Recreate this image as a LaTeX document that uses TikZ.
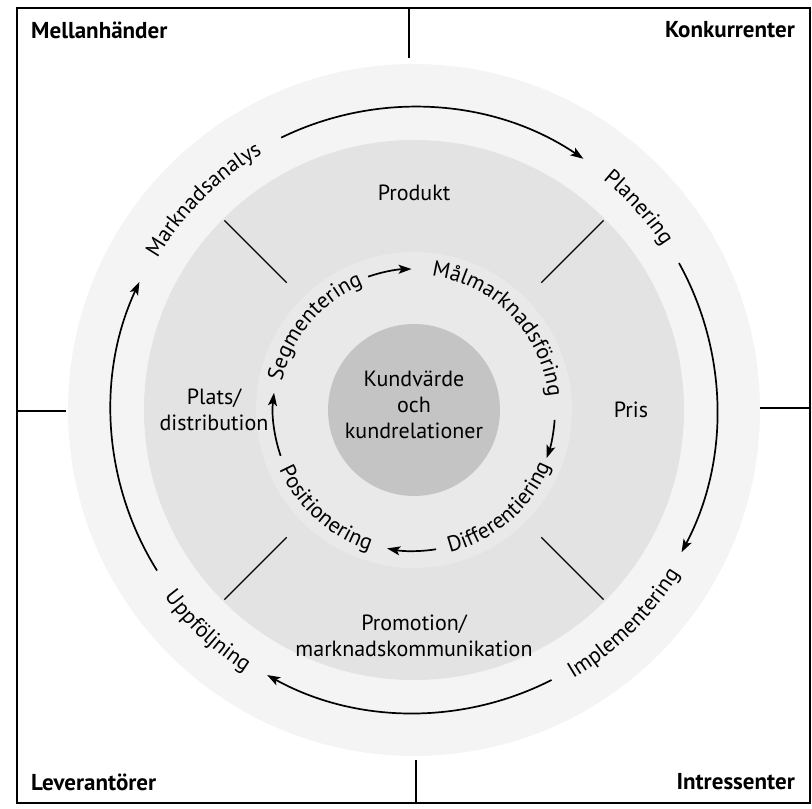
\documentclass[tikz,border=0pt]{standalone}
\usepackage{fontspec}
\setmainfont{PT Sans}
\usetikzlibrary{arrows.meta,decorations.text}
\newcommand\lblfont{\fontsize{22}{26}\selectfont}
\newcommand\cornerfont{\bfseries\fontsize{23}{26}\selectfont}
\begin{document}
\begin{tikzpicture}[x=1pt,y=1pt,
  lbl/.style={font=\lblfont, align=center, inner sep=0pt},
  corner/.style={font=\cornerfont, inner sep=0pt},
  arr/.style={line width=1.7pt, -{Stealth[length=13pt,width=9pt,inset=3pt]}},
  divline/.style={line width=1.2pt},
  frameline/.style={line width=1.4pt},
  curvetext/.style={decorate, decoration={text along path, text align=center, text={|\lblfont|#1}}},
]
\useasboundingbox (0,0) rectangle (812,809);
% rings
\begin{scope}[shift={(414,399)}]
  \coordinate (C) at (0,0);
  \fill[gray!9] (C) circle (346);
  \fill[gray!22] (C) circle (270);
  \fill[gray!17] (C) circle (158);
  \fill[gray!46] (C) circle (86);
  % divider lines in the band
  \foreach \a in {45,135,225,315} \draw[divline] (\a:180) -- (\a:268);
  % outer cycle labels
  \path[curvetext=Marknadsanalys] (165:298) arc[start angle=165,end angle=105,radius=298];
  \path[curvetext=Planering] (65:298) arc[start angle=65,end angle=19,radius=298];
  \path[curvetext=Implementering] (-75:312) arc[start angle=-75,end angle=-16,radius=312];
  \path[curvetext=Uppföljning] (200:312) arc[start angle=200,end angle=254,radius=312];
  % outer cycle arrows
  \coordinate (o1) at (116:303);
  \coordinate (o2) at (29:303);
  \coordinate (o3) at (-63:303);
  \coordinate (o4) at (212:303);
  \draw[arr] (o1) arc[start angle=116,end angle=56,radius=303];
  \draw[arr] (o2) arc[start angle=29,end angle=-28,radius=303];
  \draw[arr] (o3) arc[start angle=297,end angle=241,radius=303];
  \draw[arr] (o4) arc[start angle=212,end angle=155,radius=303];
  % inner cycle labels
  \path[curvetext=Segmentering] (185:135) arc[start angle=185,end angle=95,radius=135];
  \path[curvetext=Målmarknadsföring] (112:135) arc[start angle=112,end angle=-24,radius=135];
  \path[curvetext=Differentiering] (267:147) arc[start angle=267,end angle=355,radius=147];
  \path[curvetext=Positionering] (188:147) arc[start angle=188,end angle=268,radius=147];
  % inner cycle arrows
  \coordinate (i1) at (109:141);
  \coordinate (i2) at (-4:141);
  \coordinate (i3) at (279:141);
  \coordinate (i4) at (199:141);
  \draw[arr] (i1) arc[start angle=109,end angle=91,radius=141];
  \draw[arr] (i2) arc[start angle=-4,end angle=-20,radius=141];
  \draw[arr] (i3) arc[start angle=279,end angle=259,radius=141];
  \draw[arr] (i4) arc[start angle=199,end angle=173,radius=141];
  % text in rings
  \node[lbl] (kund) at (0,5) {Kundvärde\\och\\kundrelationer};
  \node[lbl] (produkt) at (0,217) {Produkt};
  \node[lbl] (pris) at (217,0) {Pris};
  \node[lbl] (plats) at (-200,0) {Plats/\\distribution};
  \node[lbl] (promo) at (0,-226) {Promotion/\\marknadskommunikation};
\end{scope}
% frame and dividers
\draw[frameline] (17,6) rectangle (810,801);
\draw[divline] (409,801) -- (409,751);
\draw[divline] (416,6) -- (416,49);
\draw[divline] (17,398) -- (66,398);
\draw[divline] (760,401) -- (810,401);
% corner labels
\node[corner, anchor=west] (mell) at (31,779) {Mellanhänder};
\node[corner, anchor=east] (konk) at (795,779) {Konkurrenter};
\node[corner, anchor=west] (lev) at (31,27) {Leverantörer};
\node[corner, anchor=east] (intr) at (795,27) {Intressenter};
\end{tikzpicture}
\end{document}
